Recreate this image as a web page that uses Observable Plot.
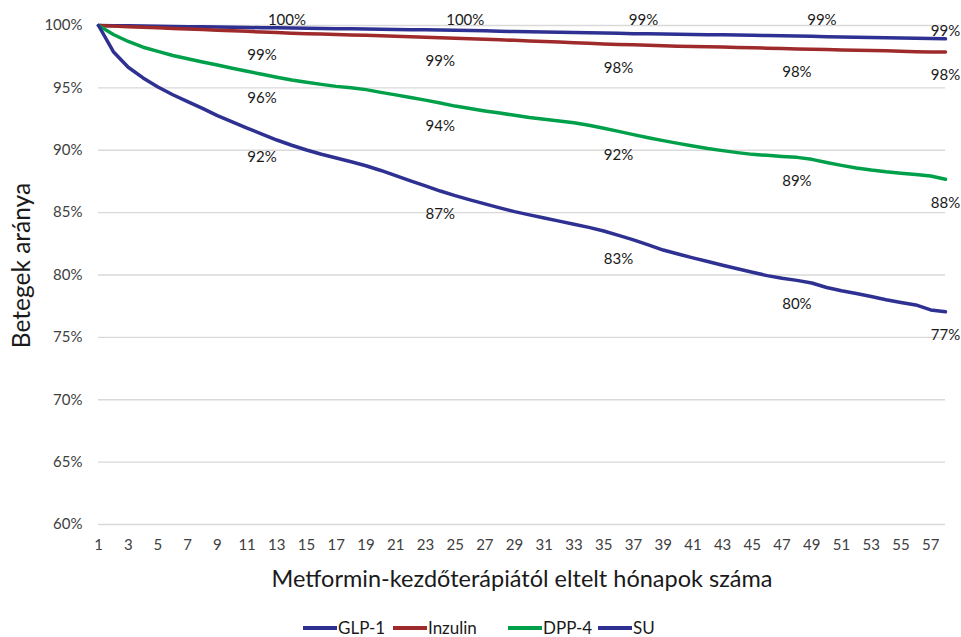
<!DOCTYPE html>
<html>
<head>
<meta charset="utf-8">
<script src="https://cdn.jsdelivr.net/npm/d3@7"></script>
<script src="https://cdn.jsdelivr.net/npm/@observablehq/plot@0.6"></script>
<style>
  body { margin: 0; background: #fff; font-family: Lato, "Open Sans", sans-serif; }
  #wrap { position: relative; width: 961px; height: 637px; overflow: hidden; background: #fff; }
  #legend { position: absolute; left: 0; top: 619px; width: 961px; height: 18px; font-size: 17px; line-height: 18px; color: #1a1a1a; }
  .item { position: absolute; top: 0; height: 18px; display: flex; align-items: center; white-space: nowrap; }
  .swatch { width: 34px; height: 3.5px; margin-right: 1px; }
</style>
</head>
<body>
<div id="wrap"><div id="chart"></div><div id="legend"></div></div>
<script>
// ---- data ----
const months = [1,2,3,4,5,6,7,8,9,10,11,12,13,14,15,16,17,18,19,20,21,22,23,24,25,26,27,28,29,30,
  31,32,33,34,35,36,37,38,39,40,41,42,43,44,45,46,47,48,49,50,51,52,53,54,55,56,57,58];
const xTicks = [1,3,5,7,9,11,13,15,17,19,21,23,25,27,29,31,33,35,37,39,41,43,45,47,49,51,53,55,57];
const yTicks = [60,65,70,75,80,85,90,95,100];

const seriesNames = ["GLP-1", "Inzulin", "DPP-4", "SU"];

const glp1 = [100,99.98,99.97,99.95,99.94,99.92,99.90,99.89,99.87,99.86,99.84,99.82,99.81,99.79,99.78,
  99.76,99.74,99.73,99.71,99.69,99.68,99.66,99.65,99.63,99.62,99.59,99.57,99.54,99.52,99.50,
  99.48,99.45,99.43,99.41,99.39,99.37,99.34,99.33,99.31,99.29,99.28,99.26,99.25,99.23,99.21,
  99.20,99.18,99.15,99.13,99.10,99.08,99.05,99.04,99.01,98.99,98.97,98.96,98.93];

const inzulin = [100,99.95,99.90,99.86,99.81,99.76,99.71,99.67,99.62,99.57,99.53,99.48,99.43,99.38,99.34,
  99.31,99.28,99.24,99.21,99.17,99.13,99.09,99.06,99.02,98.98,98.93,98.89,98.85,98.81,98.76,
  98.72,98.67,98.62,98.57,98.52,98.48,98.45,98.41,98.37,98.34,98.32,98.30,98.27,98.24,98.21,
  98.18,98.15,98.12,98.09,98.07,98.04,98.02,98.00,97.97,97.94,97.90,97.88,97.87];

const dpp4 = [100,99.28,98.72,98.26,97.93,97.60,97.33,97.07,96.83,96.58,96.33,96.09,95.85,95.63,95.45,
  95.28,95.12,95.01,94.86,94.64,94.44,94.23,94.02,93.79,93.54,93.34,93.15,92.98,92.80,92.62,
  92.48,92.34,92.21,92.01,91.77,91.51,91.25,91.00,90.77,90.55,90.34,90.14,89.97,89.81,89.67,
  89.59,89.50,89.43,89.27,89.02,88.79,88.58,88.41,88.27,88.16,88.06,87.93,87.67];

const su = [100,97.90,96.65,95.80,95.07,94.45,93.90,93.36,92.78,92.28,91.77,91.30,90.82,90.40,90.02,
  89.68,89.38,89.08,88.76,88.38,87.96,87.55,87.14,86.73,86.36,86.02,85.70,85.38,85.08,84.82,
  84.57,84.32,84.07,83.82,83.53,83.18,82.82,82.42,82.00,81.68,81.37,81.08,80.78,80.50,80.22,
  79.95,79.74,79.57,79.36,79.00,78.74,78.52,78.27,78.02,77.80,77.60,77.20,77.05];

// data labels shown on the chart
const labelMonths = [12, 24, 36, 48, 58];
const glp1Labels = ["100%", "100%", "99%", "99%", "99%"];
const inzulinLabels = ["99%", "99%", "98%", "98%", "98%"];
const dpp4Labels = ["96%", "94%", "92%", "89%", "88%"];
const suLabels = ["92%", "87%", "83%", "80%", "77%"];

const xTitle = "Metformin-kezdőterápiától eltelt hónapok száma";
const yTitle = "Betegek aránya";

// ---- styling ----
const colors = ["#2e3192", "#9e2a2b", "#00a04b", "#2e3192"];
const values = [glp1, inzulin, dpp4, su];
const labels = [glp1Labels, inzulinLabels, dpp4Labels, suLabels];

const rows = seriesNames.flatMap((s, si) => months.map((m, i) => ({series: s, month: m, value: values[si][i]})));
const labelRows = seriesNames.flatMap((s, si) => labelMonths.map((m, j) => ({
  series: s, month: m, value: values[si][months.indexOf(m)], text: labels[si][j], end: j === labelMonths.length - 1
})));

const glpMid = labelRows.filter(d => d.series === "GLP-1" && !d.end);
const glpEnd = labelRows.filter(d => d.series === "GLP-1" && d.end);
const others = labelRows.filter(d => d.series !== "GLP-1");

const plot = Plot.plot({
  width: 961,
  height: 600,
  marginLeft: 98,
  marginRight: 16,
  marginTop: 25,
  marginBottom: 76,
  style: {fontFamily: "Lato, 'Open Sans', sans-serif", fontSize: "15px", color: "#404040", background: "#fff"},
  x: {domain: [1, 58]},
  y: {domain: [60, 100]},
  color: {domain: seriesNames, range: colors},
  marks: [
    Plot.gridY(yTicks, {stroke: "#d9d9d9", strokeOpacity: 1, strokeWidth: 1.3}),
    Plot.axisY(yTicks, {tickFormat: d => d + "%", tickSize: 0, tickPadding: 16, fontSize: 15, label: null}),
    Plot.axisX(xTicks, {tickSize: 0, tickPadding: 15, fontSize: 15, label: null}),
    Plot.line(rows, {x: "month", y: "value", z: "series", stroke: "series", strokeWidth: 3.5, strokeLinejoin: "round", strokeLinecap: "round"}),
    Plot.text(glpMid, {x: "month", frameAnchor: "top", lineAnchor: "middle", text: "text", dx: 25, dy: -5, fill: "#1a1a1a", fontSize: 15}),
    Plot.text(glpEnd, {x: "month", y: "value", text: "text", dy: -8, fill: "#1a1a1a", fontSize: 15}),
    Plot.text(others, {x: "month", y: "value", text: "text", dy: 23.5, fill: "#1a1a1a", fontSize: 15}),
    Plot.text([xTitle], {frameAnchor: "bottom", lineAnchor: "middle", textAnchor: "middle", text: d => d, dy: 55, fill: "#1a1a1a", fontSize: 23.5}),
    Plot.text([yTitle], {frameAnchor: "left", lineAnchor: "middle", textAnchor: "middle", text: d => d, rotate: -90, dx: -76, dy: -9.5, fill: "#1a1a1a", fontSize: 24.5})
  ]
});
document.getElementById("chart").appendChild(plot);

// legend
const legendLeft = [303, 393, 508, 598];
const legend = document.getElementById("legend");
seriesNames.forEach((s, i) => {
  const item = document.createElement("div");
  item.className = "item";
  item.style.left = legendLeft[i] + "px";
  const sw = document.createElement("span");
  sw.className = "swatch";
  sw.style.background = colors[i];
  const t = document.createElement("span");
  t.textContent = s;
  item.appendChild(sw);
  item.appendChild(t);
  legend.appendChild(item);
});
</script>
</body>
</html>
